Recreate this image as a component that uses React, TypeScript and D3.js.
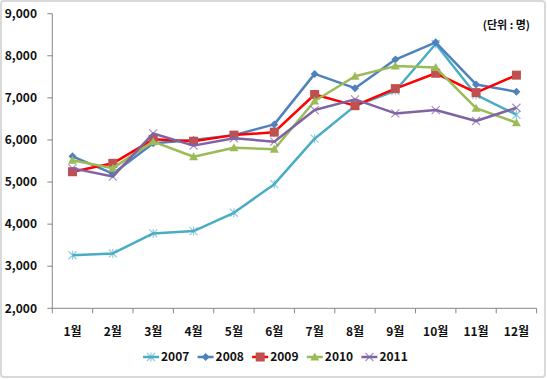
import React from "react";
import * as d3 from "d3";

const months = ["1월", "2월", "3월", "4월", "5월", "6월", "7월", "8월", "9월", "10월", "11월", "12월"];
const yTicks = [2000, 3000, 4000, 5000, 6000, 7000, 8000, 9000];
const s2007 = [3260, 3305, 3780, 3835, 4270, 4950, 6030, 6810, 7170, 8280, 7070, 6600];
const s2008 = [5610, 5200, 5920, 6000, 6115, 6370, 7570, 7230, 7910, 8320, 7320, 7145];
const s2009 = [5245, 5445, 6015, 5970, 6115, 6185, 7080, 6815, 7220, 7585, 7125, 7540];
const s2010 = [5520, 5330, 5960, 5600, 5815, 5780, 6925, 7515, 7755, 7720, 6755, 6410];
const s2011 = [5325, 5130, 6155, 5865, 6040, 5960, 6710, 6965, 6630, 6710, 6450, 6765];

const seriesList = [
  { name: "2007", values: s2007, line: "#4BACC6", marker: "#4BACC6", shape: "star" },
  { name: "2008", values: s2008, line: "#4F81BD", marker: "#4F81BD", shape: "diamond" },
  { name: "2009", values: s2009, line: "#FF0000", marker: "#C0504D", shape: "square" },
  { name: "2010", values: s2010, line: "#9BBB59", marker: "#9BBB59", shape: "triangle" },
  { name: "2011", values: s2011, line: "#8064A2", marker: "#8064A2", shape: "x" },
];

const FONT = "'Noto Sans CJK KR', 'Noto Sans', sans-serif";

function Marker({ shape, cx, cy, color }: { shape: string; cx: number; cy: number; color: string }) {
  if (shape === "square") return <rect x={cx - 4.5} y={cy - 4.5} width={9} height={9} fill={color} />;
  if (shape === "diamond")
    return <path d={`M${cx},${cy - 4}L${cx + 4},${cy}L${cx},${cy + 4}L${cx - 4},${cy}Z`} fill={color} />;
  if (shape === "triangle")
    return <path d={`M${cx},${cy - 4.5}L${cx + 4.5},${cy + 3.5}L${cx - 4.5},${cy + 3.5}Z`} fill={color} />;
  if (shape === "x")
    return (
      <path d={`M${cx - 4},${cy - 4}L${cx + 4},${cy + 4}M${cx - 4},${cy + 4}L${cx + 4},${cy - 4}`} stroke={color} strokeWidth={1.2} opacity={0.7} />
    );
  // star
  return (
    <path
      d={`M${cx - 4},${cy - 4}L${cx + 4},${cy + 4}M${cx - 4},${cy + 4}L${cx + 4},${cy - 4}M${cx},${cy - 4.5}L${cx},${cy + 4.5}`}
      stroke={color}
      strokeWidth={1.2}
      opacity={0.6}
    />
  );
}

export default function App() {
  const W = 547, H = 379;
  const left = 52.3, right = 536.6, top = 13.7, bottom = 308.3;
  const x = d3.scaleBand<string>().domain(months).range([left, right]);
  const y = d3.scaleLinear().domain([2000, 9000]).range([bottom, top]);
  const line = d3
    .line<number>()
    .x((_, i) => (x(months[i]) as number) + x.bandwidth() / 2)
    .y((d) => y(d));
  const boundaries = d3.range(months.length + 1).map((i) => left + i * x.step());

  return (
    <svg width={W} height={H} style={{ position: "absolute", left: 0, top: 0 }} fontFamily={FONT}>
      <rect x={1} y={1} width={W - 3} height={H - 3} rx={3} fill="#fff" stroke="#D9D9D9" strokeWidth={2} />
      {/* y axis */}
      <line x1={left} x2={left} y1={top} y2={bottom} stroke="#868686" strokeWidth={1} />
      {yTicks.map((t) => (
        <g key={t}>
          <line x1={left - 5} x2={left} y1={y(t)} y2={y(t)} stroke="#868686" />
          <text x={37} y={y(t)} dy="0.35em" textAnchor="end" fontSize={12} fontWeight="bold" fill="#111">
            {d3.format(",")(t)}
          </text>
        </g>
      ))}
      {/* x axis */}
      <line x1={left} x2={right} y1={bottom} y2={bottom} stroke="#868686" />
      {boundaries.map((b, i) => (
        <line key={i} x1={b} x2={b} y1={bottom} y2={bottom + 5} stroke="#868686" />
      ))}
      {months.map((m) => (
        <text key={m} x={(x(m) as number) + x.bandwidth() / 2} y={332} dy="0.35em" textAnchor="middle" fontSize={12} fontWeight="bold" fill="#111">
          {m}
        </text>
      ))}
      {/* series */}
      {seriesList.map((s) => (
        <g key={s.name}>
          <path d={line(s.values) as string} fill="none" stroke={s.line} strokeWidth={2.5} strokeLinejoin="round" />
          {s.values.map((v, i) => (
            <Marker key={i} shape={s.shape} cx={(x(months[i]) as number) + x.bandwidth() / 2} cy={y(v)} color={s.marker} />
          ))}
        </g>
      ))}
      <text x={530} y={25} dy="0.35em" textAnchor="end" fontSize={11} fontWeight="bold" fill="#111">
        (단위 : 명)
      </text>
      {/* legend */}
      {seriesList.map((s, i) => {
        const lx = 143 + i * 54.6;
        const ly = 357;
        return (
          <g key={s.name}>
            <line x1={lx} x2={lx + 16} y1={ly} y2={ly} stroke={s.line} strokeWidth={2.5} />
            <Marker shape={s.shape} cx={lx + 8} cy={ly} color={s.marker} />
            <text x={lx + 18} y={ly} dy="0.35em" fontSize={12} fontWeight="bold" fill="#111">
              {s.name}
            </text>
          </g>
        );
      })}
    </svg>
  );
}
